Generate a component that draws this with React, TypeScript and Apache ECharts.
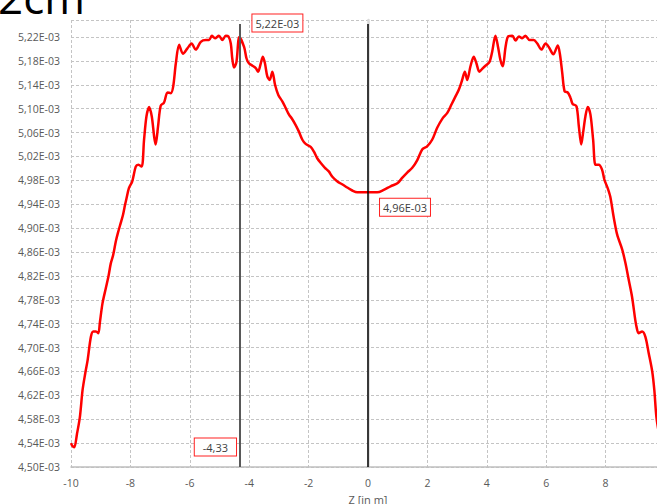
import React, { useEffect, useRef } from "react";
import * as echarts from "echarts";

// Longitudinal positions along the axis (m)
const zPositions = [
  -10.0, -9.95, -9.89, -9.8, -9.7, -9.61, -9.52, -9.44, -9.33, -9.25, -9.16, -9.08, -9.03,
  -8.94, -8.83, -8.74, -8.66, -8.58, -8.49, -8.42, -8.33, -8.25, -8.18, -8.13, -8.05,
  -7.94, -7.82, -7.73, -7.62, -7.54, -7.46, -7.37, -7.28, -7.2, -7.15, -7.07, -6.98,
  -6.87, -6.75, -6.64, -6.56, -6.47, -6.36, -6.23, -6.08, -5.94, -5.8, -5.63, -5.46,
  -5.35, -5.26, -5.15, -5.02, -4.9, -4.79, -4.7, -4.62, -4.57, -4.51, -4.43, -4.33,
  -4.17, -4.09, -4.01, -3.89, -3.78, -3.7, -3.61, -3.54, -3.47, -3.39, -3.31, -3.22,
  -3.13, -3.02, -2.88, -2.77, -2.66, -2.57, -2.44, -2.33, -2.21, -2.1, -1.93, -1.82,
  -1.71, -1.59, -1.45, -1.32, -1.2, -1.03, -0.86, -0.7, -0.53, -0.36, -0.14, 0.0,
  0.31, 0.53, 0.76, 0.99, 1.15, 1.32, 1.49, 1.66, 1.83, 1.99, 2.16, 2.33, 2.5, 2.67,
  2.81, 2.95, 3.06, 3.17, 3.26, 3.34, 3.45, 3.56, 3.65, 3.75, 3.87, 3.98, 4.09, 4.18,
  4.29, 4.38, 4.46, 4.54, 4.63, 4.72, 4.86, 4.97, 5.08, 5.19, 5.3, 5.44, 5.58, 5.7,
  5.84, 5.98, 6.09, 6.24, 6.39, 6.46, 6.54, 6.62, 6.73, 6.82, 6.89, 7.02, 7.1, 7.18,
  7.24, 7.32, 7.4, 7.49, 7.58, 7.66, 7.77, 7.88, 7.96, 8.07, 8.16, 8.27, 8.39, 8.56,
  8.67, 8.78, 8.89, 9.0, 9.04, 9.11, 9.23, 9.34, 9.45, 9.57, 9.64, 9.71, 9.8, 9.89, 10.0,
];

// Measured values at each position
const measuredValues = [
  4.54e-3, 4.535e-3, 4.533e-3, 4.555e-3, 4.584e-3, 4.629e-3, 4.657e-3, 4.679e-3, 4.718e-3,
  4.727e-3, 4.727e-3, 4.724e-3, 4.741e-3,
  4.774e-3, 4.799e-3, 4.819e-3, 4.841e-3, 4.855e-3, 4.878e-3, 4.892e-3, 4.908e-3, 4.922e-3,
  4.939e-3, 4.95e-3, 4.967e-3,
  4.978e-3, 5.003e-3, 5.006e-3, 5.003e-3, 5.048e-3, 5.087e-3, 5.103e-3, 5.087e-3, 5.053e-3,
  5.04e-3, 5.07e-3, 5.105e-3,
  5.11e-3, 5.127e-3, 5.126e-3, 5.137e-3, 5.176e-3, 5.207e-3, 5.192e-3, 5.201e-3, 5.209e-3,
  5.199e-3, 5.212e-3, 5.215e-3,
  5.215e-3, 5.222e-3, 5.218e-3, 5.222e-3, 5.215e-3, 5.222e-3, 5.221e-3, 5.209e-3, 5.184e-3,
  5.169e-3, 5.178e-3, 5.22e-3,
  5.203e-3, 5.184e-3, 5.176e-3, 5.172e-3, 5.168e-3, 5.162e-3, 5.176e-3, 5.187e-3, 5.176e-3,
  5.154e-3, 5.148e-3, 5.162e-3,
  5.14e-3, 5.123e-3, 5.112e-3, 5.101e-3, 5.09e-3, 5.084e-3, 5.073e-3, 5.062e-3, 5.048e-3,
  5.041e-3, 5.036e-3, 5.028e-3,
  5.017e-3, 5.009e-3, 5.001e-3, 4.995e-3, 4.986e-3, 4.978e-3, 4.973e-3, 4.968e-3, 4.963e-3,
  4.96e-3, 4.96e-3, 4.96e-3,
  4.96e-3, 4.964e-3, 4.97e-3, 4.975e-3, 4.984e-3, 4.993e-3, 5.001e-3, 5.014e-3, 5.032e-3,
  5.037e-3, 5.048e-3, 5.068e-3, 5.083e-3, 5.093e-3,
  5.107e-3, 5.121e-3, 5.132e-3, 5.148e-3, 5.162e-3, 5.148e-3, 5.171e-3, 5.187e-3, 5.176e-3,
  5.162e-3, 5.168e-3, 5.173e-3, 5.178e-3, 5.195e-3,
  5.222e-3, 5.203e-3, 5.181e-3, 5.171e-3, 5.203e-3, 5.221e-3, 5.222e-3, 5.214e-3, 5.221e-3,
  5.218e-3, 5.222e-3, 5.215e-3, 5.215e-3, 5.209e-3,
  5.199e-3, 5.209e-3, 5.203e-3, 5.191e-3, 5.206e-3, 5.192e-3, 5.16e-3, 5.129e-3, 5.127e-3,
  5.118e-3, 5.108e-3, 5.104e-3, 5.07e-3, 5.04e-3,
  5.059e-3, 5.087e-3, 5.103e-3, 5.09e-3, 5.048e-3, 5.006e-3, 5.006e-3, 4.998e-3, 4.981e-3,
  4.967e-3, 4.952e-3, 4.919e-3, 4.889e-3, 4.864e-3,
  4.841e-3, 4.813e-3, 4.785e-3, 4.746e-3, 4.735e-3, 4.724e-3, 4.727e-3, 4.718e-3, 4.691e-3,
  4.66e-3, 4.629e-3, 4.584e-3, 4.555e-3, 4.533e-3, 4.54e-3,
];

// Highlighted readings
const peakZ = -4.33;
const peakValue = 5.22e-3;
const centreZ = 0;
const centreValue = 4.96e-3;

// Axis settings
const zMin = -10;
const zMax = 10;
const zStep = 2;
const valueMin = 4.5e-3;
const valueMax = 5.2485e-3;
const valueStep = 0.04e-3;
const markerTop = 5.2418e-3;

const sci = (v: number) => (v * 1000).toFixed(2).replace(".", ",") + "E-03";
const dec = (v: number) => v.toFixed(2).replace(".", ",");

const FONT = '"Open Sans", "Noto Sans", sans-serif';

export default function App() {
  const ref = useRef<HTMLDivElement>(null);

  useEffect(() => {
    if (!ref.current) return;
    const chart = echarts.init(ref.current, null, { renderer: "svg" });

    const data = zPositions.map((z, i) => [z, measuredValues[i]]);
    const tickCount = Math.round((valueMax - valueMin) / valueStep) + 2;
    const gridColors = Array.from({ length: tickCount }, (_, i) =>
      i < tickCount - 1 ? "#c4c4c4" : "rgba(0,0,0,0)"
    );

    const boxLabel = {
      show: true,
      color: "#404040",
      fontFamily: FONT,
      fontSize: 11,
      backgroundColor: "#ffffff",
      borderColor: "#ff2020",
      borderWidth: 1,
      padding: [3, 3, 3, 3],
    };

    chart.setOption({
      animation: false,
      graphic: [
        {
          type: "text",
          x: -2,
          y: 19,
          style: {
            text: "2cm",
            font: `normal 44px ${FONT}`,
            fill: "#000000",
            verticalAlign: "bottom",
          },
        },
      ],
      grid: { left: 71, right: 35, top: 20, bottom: 37, outerBoundsMode: "none" },
      xAxis: {
        type: "value",
        min: zMin,
        max: zMax,
        interval: zStep,
        name: "Z [in m]",
        nameLocation: "middle",
        nameGap: 27,
        nameTextStyle: { color: "#595959", fontFamily: FONT, fontSize: 11 },
        axisLine: { show: true, lineStyle: { color: "#bfbfbf", width: 1.5 } },
        axisTick: { show: false },
        axisLabel: {
          color: "#595959",
          fontFamily: FONT,
          fontSize: 10.5,
          margin: 10,
          showMaxLabel: false,
          formatter: (v: number) => String(v),
        },
        splitLine: { show: true, lineStyle: { color: "#c4c4c4", type: [3, 2], width: 1 } },
      },
      yAxis: {
        type: "value",
        min: valueMin,
        max: valueMax,
        interval: valueStep,
        axisLine: { show: true, lineStyle: { color: "#d9d9d9", width: 2.5 } },
        axisTick: { show: false },
        axisLabel: {
          color: "#595959",
          fontFamily: FONT,
          fontSize: 10.5,
          margin: 11,
          showMaxLabel: false,
          formatter: (v: number) => sci(v),
        },
        splitLine: { show: true, lineStyle: { color: gridColors, type: [3, 2], width: 1 } },
      },
      series: [
        {
          type: "line",
          data,
          smooth: 0.3,
          showSymbol: false,
          lineStyle: { color: "#ff0000", width: 2.5 },
          markLine: {
            silent: true,
            symbol: ["none", "none"],
            label: { show: false },
            data: [
              [
                { coord: [peakZ, valueMin], lineStyle: { color: "#595959", width: 2, type: "solid" } },
                { coord: [peakZ, markerTop] },
              ],
              [
                { coord: [centreZ, valueMin], lineStyle: { color: "#000000", width: 1.5, type: "solid" } },
                { coord: [centreZ, markerTop] },
              ],
            ],
          },
          markPoint: {
            silent: true,
            symbol: "circle",
            symbolSize: 0,
            data: [
              {
                coord: [peakZ, peakValue],
                label: { ...boxLabel, formatter: sci(peakValue), offset: [38, -14] },
              },
              {
                coord: [centreZ, centreValue],
                label: { ...boxLabel, formatter: sci(centreValue), offset: [37, 15] },
              },
              {
                coord: [peakZ, valueMin],
                label: {
                  ...boxLabel,
                  formatter: dec(peakZ),
                  offset: [-24, -20],
                  padding: [3, 8, 3, 8],
                },
              },
            ],
          },
        },
      ],
    });

    return () => chart.dispose();
  }, []);

  return (
    <div
      style={{
        position: "fixed",
        left: 0,
        top: 0,
        width: 657,
        height: 504,
        overflow: "hidden",
        background: "#ffffff",
      }}
    >
      <div ref={ref} style={{ width: 700, height: 504 }} />
    </div>
  );
}
